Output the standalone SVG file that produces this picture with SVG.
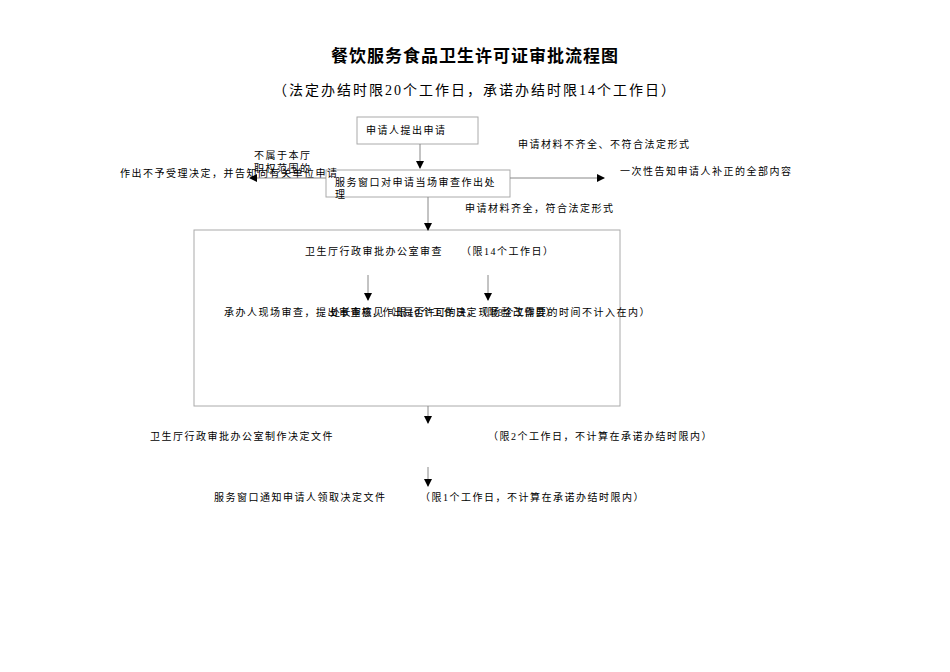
<svg xmlns="http://www.w3.org/2000/svg" width="950" height="672" viewBox="0 0 950 672">
<defs><marker id="a" markerWidth="8" markerHeight="8" refX="7" refY="4" orient="auto" markerUnits="userSpaceOnUse"><path d="M0,0 L8,4 L0,8 z" fill="#000"/></marker></defs>
<style>text{font-family:"Liberation Serif","Noto Sans CJK SC",serif;font-size:10px;fill:#000;letter-spacing:1.5px}.b{fill:#fff;stroke:#aaa;stroke-width:1}.l{stroke:#888;stroke-width:1;fill:none}</style>
<rect width="950" height="672" fill="#fff"/>
<text x="475" y="62" text-anchor="middle" style="font-size:17px;font-weight:bold;letter-spacing:1px">餐饮服务食品卫生许可证审批流程图</text>
<text x="475" y="95" text-anchor="middle" style="font-size:14px;letter-spacing:2px">（法定办结时限20个工作日，承诺办结时限14个工作日）</text>
<g id="n1"><rect class="b" x="357" y="117" width="121" height="27"/><text x="366" y="134">申请人提出申请</text></g>
<g id="n2"><rect class="b" x="326" y="170" width="184" height="27"/><text x="335" y="186">服务窗口对申请当场审查作出处</text><text x="335" y="198">理</text></g>
<g id="n3"><rect class="b" x="194" y="230" width="426" height="176"/><text x="305" y="255">卫生厅行政审批办公室审查　　（限14个工作日）</text>
<text x="224" y="316">承办人现场审查，提出审查意见（限10个工作日，现场整改需要的时间不计入在内）</text>
<text x="330" y="316" style="letter-spacing:0.5px">处长审核，作出是否许可的决定（限3个工作日）</text></g>
<g id="n4"><text x="150" y="440">卫生厅行政审批办公室制作决定文件</text><text x="488" y="440">（限2个工作日，不计算在承诺办结时限内）</text></g>
<g id="n5"><text x="214" y="501">服务窗口通知申请人领取决定文件</text><text x="420" y="501">（限1个工作日，不计算在承诺办结时限内）</text></g>
<text x="254" y="159">不属于本厅</text><text x="254" y="172">职权范围的</text>
<text x="120" y="177">作出不予受理决定，并告知向有关单位申请</text>
<text x="518" y="148">申请材料不齐全、不符合法定形式</text>
<text x="620" y="175">一次性告知申请人补正的全部内容</text>
<text x="465" y="212">申请材料齐全，符合法定形式</text>
<g id="connectors" class="l">
<path class="l" d="M420,144 V168" marker-end="url(#a)"/>
<path class="l" d="M326,178 H250" marker-end="url(#a)"/>
<path class="l" d="M510,178 H604" marker-end="url(#a)"/>
<path class="l" d="M428,197 V230" marker-end="url(#a)"/>
<path class="l" d="M368,275 V300" marker-end="url(#a)"/>
<path class="l" d="M488,275 V300" marker-end="url(#a)"/>
<path class="l" d="M428,406 V423" marker-end="url(#a)"/>
<path class="l" d="M428,467 V486" marker-end="url(#a)"/>
</g>
</svg>
